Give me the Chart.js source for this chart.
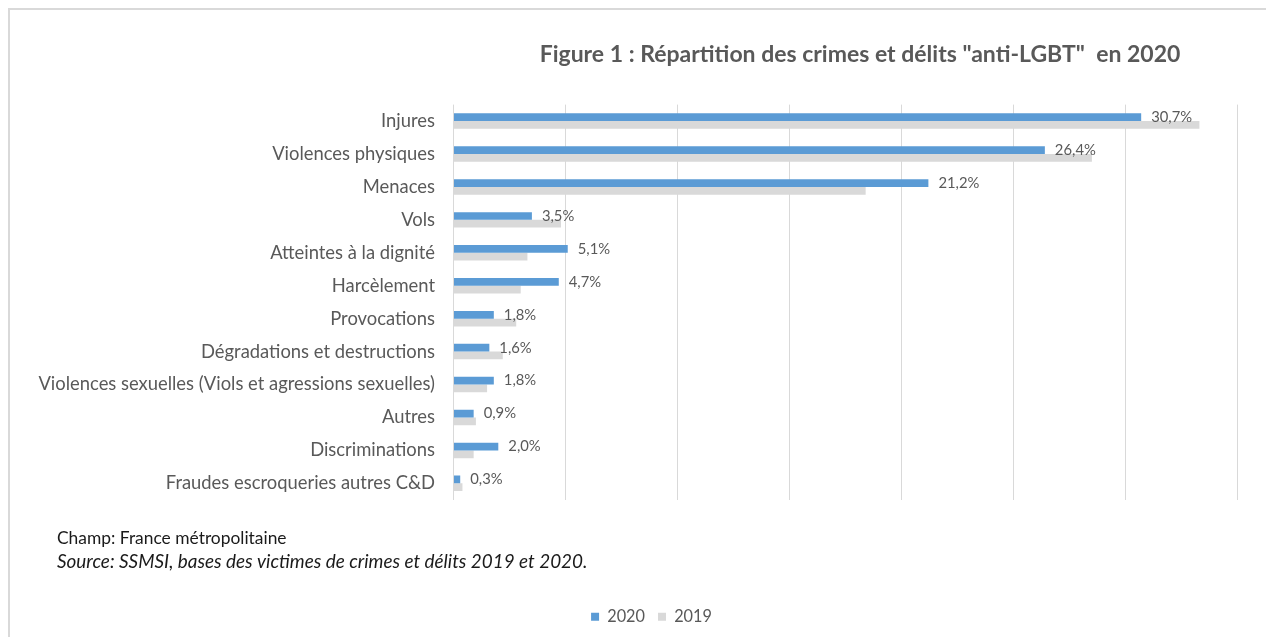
<!DOCTYPE html>
<html lang="fr">
<head>
<meta charset="utf-8">
<title>Figure 1 : Répartition des crimes et délits anti-LGBT en 2020</title>
<script src="https://cdn.jsdelivr.net/npm/chart.js@4.4.1/dist/chart.umd.min.js"></script>
<style>
  html, body { margin: 0; padding: 0; background: #fff; }
  #wrap { position: relative; width: 1266px; height: 637px; }
</style>
</head>
<body>
<div id="wrap"><canvas id="chart" width="1266" height="637"></canvas></div>
<script>
//Chart data
const categories = [
  "Injures",
  "Violences physiques",
  "Menaces",
  "Vols",
  "Atteintes à la dignité",
  "Harcèlement",
  "Provocations",
  "Dégradations et destructions",
  "Violences sexuelles (Viols et agressions sexuelles)",
  "Autres",
  "Discriminations",
  "Fraudes escroqueries autres C&D"
];
const values2020 = [30.7, 26.4, 21.2, 3.5, 5.1, 4.7, 1.8, 1.6, 1.8, 0.9, 2.0, 0.3];
const values2019 = [33.3, 28.5, 18.4, 4.8, 3.3, 3.0, 2.8, 2.2, 1.5, 1.0, 0.9, 0.4];
const seriesNames = ["2020", "2019"];
const xMax = 35;
const xStep = 5;

//Texts around the chart
const titleText = 'Figure 1 : Répartition des crimes et délits "anti-LGBT"  en 2020';
const champText = "Champ: France métropolitaine";
const sourceText = "Source: SSMSI, bases des victimes de crimes et délits 2019 et 2020.";

const greyText = "#595959";
const fontFamily = "Lato, 'Open Sans', sans-serif";

//Values printed at the end of the 2020 bars
const valueLabels = {
  id: "valueLabels",
  afterDatasetsDraw(chart) {
    const ctx = chart.ctx;
    const meta = chart.getDatasetMeta(0);
    ctx.save();
    ctx.font = "14.8px " + fontFamily;
    ctx.fillStyle = greyText;
    ctx.textBaseline = "middle";
    ctx.textAlign = "left";
    meta.data.forEach((bar, i) => {
      const txt = values2020[i].toFixed(1).replace(".", ",") + "%";
      ctx.fillText(txt, bar.x + 10, bar.y);
    });
    ctx.restore();
  }
};

//Frame, title and notes
const frameAndNotes = {
  id: "frameAndNotes",
  afterLayout(chart) {
    //move the legend a bit to the right, like in the figure
    chart.legend.left += 17.75;
    chart.legend.right += 17.75;
  },
  beforeDraw(chart) {
    const ctx = chart.ctx;
    ctx.save();
    ctx.fillStyle = "#fff";
    ctx.fillRect(0, 0, chart.width, chart.height);
    ctx.strokeStyle = "#D9D9D9";
    ctx.lineWidth = 2;
    ctx.beginPath();
    ctx.moveTo(9, chart.height);
    ctx.lineTo(9, 9);
    ctx.lineTo(chart.width, 9);
    ctx.stroke();
    ctx.restore();
  },
  afterDraw(chart) {
    const ctx = chart.ctx;
    ctx.save();
    ctx.textBaseline = "middle";
    ctx.fillStyle = greyText;
    ctx.font = "bold 23px " + fontFamily;
    ctx.textAlign = "center";
    ctx.fillText(titleText, 860, 55);

    ctx.textAlign = "left";
    ctx.fillStyle = "#1a1a1a";
    ctx.font = "17.4px " + fontFamily;
    ctx.fillText(champText, 57, 538);
    ctx.font = "italic 18.9px " + fontFamily;
    ctx.fillText(sourceText, 57, 562);
    ctx.restore();
  }
};

const chartData = {
  labels: categories,
  datasets: [
    {
      label: seriesNames[0],
      data: values2020,
      backgroundColor: "#5B9BD5",
      borderWidth: 0,
      barPercentage: 1,
      categoryPercentage: 0.47
    },
    {
      label: seriesNames[1],
      data: values2019,
      backgroundColor: "#D9D9D9",
      borderWidth: 0,
      barPercentage: 1,
      categoryPercentage: 0.47
    }
  ]
};

const chartConfig = {
  type: "bar",
  data: chartData,
  options: {
    responsive: false,
    animation: false,
    indexAxis: "y",
    layout: { padding: { top: 104.6, left: 30, right: 28.5, bottom: 2 } },
    scales: {
      x: {
        min: 0,
        max: xMax,
        ticks: { display: false, stepSize: xStep },
        grid: { color: "#D9D9D9", drawTicks: false },
        border: { display: false },
        afterFit(scale) { scale.height = 95.9; }
      },
      y: {
        ticks: { color: greyText, font: { family: fontFamily, size: 18.4 }, padding: 18.5 },
        grid: { display: false, drawTicks: false },
        border: { display: false },
        afterFit(scale) { scale.width = 423.5; }
      }
    },
    plugins: {
      legend: {
        position: "bottom",
        labels: {
          boxWidth: 8,
          boxHeight: 8,
          padding: 13,
          color: greyText,
          font: { family: fontFamily, size: 16.3 }
        }
      },
      tooltip: { enabled: false }
    }
  },
  plugins: [frameAndNotes, valueLabels]
};

new Chart(document.getElementById("chart"), chartConfig);
</script>
</body>
</html>
